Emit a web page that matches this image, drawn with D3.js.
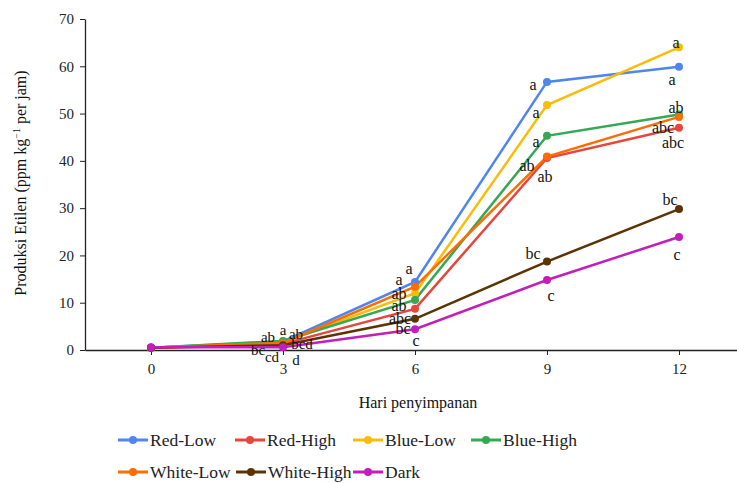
<!DOCTYPE html>
<html><head><meta charset="utf-8">
<script src="https://cdn.jsdelivr.net/npm/d3@7/dist/d3.min.js"></script>
<style>body{margin:0;background:#fff}svg{display:block;font-family:"Liberation Serif","Times New Roman",serif}</style>
</head><body><svg id="c" width="737" height="483"></svg>
<script>
const days = ["0","3","6","9","12"];
const seriesNames = ["Red-Low","Red-High","Blue-Low","Blue-High","White-Low","White-High","Dark"];
const redLow    = [0.5, 1.8, 14.4, 56.7, 59.9];
const redHigh   = [0.5, 1.3, 8.7, 40.6, 47.0];
const blueLow   = [0.5, 1.6, 12.0, 51.8, 64.0];
const blueHigh  = [0.5, 1.9, 10.6, 45.3, 49.8];
const whiteLow  = [0.5, 1.5, 13.4, 40.9, 49.3];
const whiteHigh = [0.5, 1.0, 6.6, 18.7, 29.8];
const dark      = [0.6, 0.6, 4.4, 14.8, 23.9];
const yTicks = [0,10,20,30,40,50,60,70];
// significance letters (per series, per day)
const lettersRedLow    = ["", "ab", "a", "a", "a"];
const lettersRedHigh   = ["", "bc", "abc", "ab", "abc"];
const lettersBlueLow   = ["", "ab", "ab", "a", "a"];
const lettersBlueHigh  = ["", "a", "ab", "a", "ab"];
const lettersWhiteLow  = ["", "bcd", "a", "ab", "abc"];
const lettersWhiteHigh = ["", "cd", "bc", "bc", "bc"];
const lettersDark      = ["", "d", "c", "c", "c"];

// layout (pixel offsets for letter labels, not data)
const labelOffsets = [
  [[0,0],[-15,-4],[-6,-13],[-14,3],[-7,13]],
  [[0,0],[-25,6],[-15,10],[-2,18],[-6,15]],
  [[0,0],[13,-8],[-16,0],[-11,7],[-3,-5]],
  [[0,0],[0,-11],[-16,6],[-11,6],[-3,-7]],
  [[0,0],[19,1],[-16,-7],[-20,9],[-16,11]],
  [[0,0],[-11,12],[-12,10],[-14,-8],[-9,-10]],
  [[0,0],[13,13],[1,11],[4,15],[-2,18]]
];
const colors = ["#4F86EC","#E8453C","#FBBC09","#34A853","#FF6D01","#5C3404","#C41EBA"];
const values = [redLow, redHigh, blueLow, blueHigh, whiteLow, whiteHigh, dark];
const letters = [lettersRedLow, lettersRedHigh, lettersBlueLow, lettersBlueHigh, lettersWhiteLow, lettersWhiteHigh, lettersDark];

const svg = d3.select("#c");
const x = d3.scalePoint().domain(days).range([85, 745]).padding(0.5);
const y = d3.scaleLinear().domain([0,70]).range([350, 19]);

// axes
const yAxis = svg.append("g").attr("transform","translate(85,0)")
  .call(d3.axisLeft(y).tickValues(yTicks).tickSize(5).tickSizeOuter(0).tickPadding(6));
yAxis.select(".domain").attr("stroke","#222").attr("stroke-width",1.3);
yAxis.selectAll(".tick line").attr("stroke","#222");
yAxis.selectAll("text").attr("font-size",15).attr("fill","#222").attr("font-family","Liberation Serif");

const xAxis = svg.append("g").attr("transform","translate(0,350)")
  .call(d3.axisBottom(x).tickSize(5).tickSizeOuter(0).tickPadding(8));
xAxis.select(".domain").attr("stroke","#222").attr("stroke-width",1.3);
xAxis.selectAll(".tick line").attr("stroke","#222");
xAxis.selectAll("text").attr("font-size",15).attr("fill","#222").attr("font-family","Liberation Serif");

// titles
svg.append("text").attr("x",418).attr("y",408).attr("text-anchor","middle")
  .attr("font-size",16).attr("fill","#111").text("Hari penyimpanan");
const yt = svg.append("text").attr("transform","translate(26,183) rotate(-90)")
  .attr("text-anchor","middle").attr("font-size",16).attr("fill","#111");
yt.append("tspan").text("Produksi Etilen (ppm kg");
yt.append("tspan").attr("dy",-6).attr("font-size",10).text("−1");
yt.append("tspan").attr("dy",6).text(" per jam)");

// lines
const line = d3.line().x((d,i)=>x(days[i])).y(d=>y(d));
values.forEach((vals,si)=>{
  svg.append("path").datum(vals).attr("d",line).attr("fill","none")
    .attr("stroke",colors[si]).attr("stroke-width",2.5);
});
values.forEach((vals,si)=>{
  svg.append("g").selectAll("circle").data(vals).join("circle")
    .attr("cx",(d,i)=>x(days[i])).attr("cy",d=>y(d)).attr("r",4).attr("fill",colors[si]);
});
// letters
values.forEach((vals,si)=>{
  svg.append("g").selectAll("text").data(vals).join("text")
    .attr("x",(d,i)=>x(days[i])+labelOffsets[si][i][0])
    .attr("y",(d,i)=>y(d)+labelOffsets[si][i][1])
    .attr("text-anchor","middle").attr("dominant-baseline","central")
    .attr("font-size",(d,i)=>i===1?15:16).attr("fill","#111")
    .text((d,i)=>letters[si][i]);
});

// legend
const legPos = [[118,440],[235,440],[353,440],[471,440],[118,472],[236,472],[353,472]];
seriesNames.forEach((n,i)=>{
  const g = svg.append("g").attr("transform",`translate(${legPos[i][0]},${legPos[i][1]})`);
  g.append("line").attr("x1",0).attr("x2",30).attr("y1",0).attr("y2",0).attr("stroke",colors[i]).attr("stroke-width",3);
  g.append("circle").attr("cx",15).attr("cy",0).attr("r",4).attr("fill",colors[i]);
  g.append("text").attr("x",32).attr("y",0).attr("dominant-baseline","central")
    .attr("font-size",17.5).attr("fill","#222").text(n);
});
</script></body></html>
